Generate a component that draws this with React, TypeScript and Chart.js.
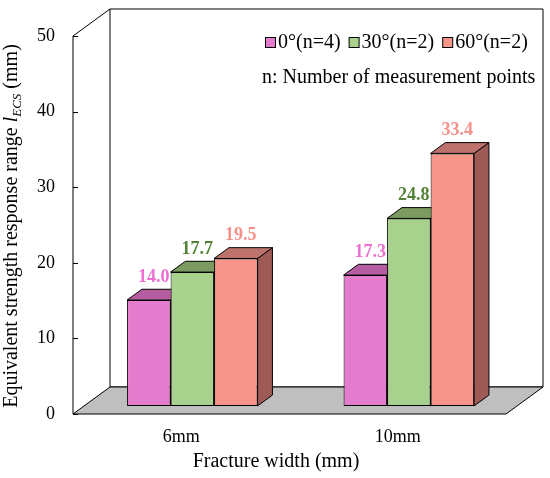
import { useEffect, useRef } from 'react';
import { Chart, registerables } from 'chart.js';

Chart.register(...registerables);

// ---------- data ----------
const categories = ['6mm', '10mm'];
const seriesLabels = ['0°(n=4)', '30°(n=2)', '60°(n=2)'];
const series0deg = [14.0, 17.3];
const series30deg = [17.7, 24.8];
const series60deg = [19.5, 33.4];
const yMin = 0;
const yMax = 50;
const yStep = 10;
const noteText = 'n: Number of measurement points';
const xTitleText = 'Fracture width (mm)';
const yTitleMain = 'Equivalent strength response range ';
const yTitleSymbol = 'l';
const yTitleSub = 'ECS';
const yTitleUnit = ' (mm)';

// ---------- styles ----------
const FONT = "'Liberation Serif', 'Times New Roman', serif";
const faceColors = ['#E57BCC', '#A9D18E', '#F8958B'];
const topColors = ['#B45DA0', '#7C9B60', '#BD736C'];
const sideColors = ['#9E4F8C', '#6A8550', '#9E5B55'];
const labelColors = ['#EE6FD1', '#548235', '#F4918A'];
const FLOOR = '#BFBFBF';
const DEPTH_X = 37;
const DEPTH_Y = -27;
const BAR_PLANE = 0.3;
const BAR_DEPTH = 0.4;

const threeD = {
  id: 'threeD',
  beforeDatasetsDraw(chart: any) {
    const { ctx, chartArea } = chart;
    const ys = chart.scales.y;
    const left = chartArea.left;
    const right = chartArea.right;
    const top = ys.getPixelForValue(yMax);
    const bottom = ys.getPixelForValue(yMin);
    ctx.save();
    ctx.lineWidth = 1;
    ctx.strokeStyle = '#000';
    // back wall
    ctx.fillStyle = '#fff';
    ctx.beginPath();
    ctx.rect(left + DEPTH_X, top + DEPTH_Y, right - left, bottom - top);
    ctx.fill();
    ctx.stroke();
    // floor
    ctx.fillStyle = FLOOR;
    ctx.beginPath();
    ctx.moveTo(left, bottom);
    ctx.lineTo(right, bottom);
    ctx.lineTo(right + DEPTH_X, bottom + DEPTH_Y);
    ctx.lineTo(left + DEPTH_X, bottom + DEPTH_Y);
    ctx.closePath();
    ctx.fill();
    ctx.stroke();
    // side wall edges / axis
    ctx.beginPath();
    ctx.moveTo(left, bottom);
    ctx.lineTo(left, top);
    ctx.lineTo(left + DEPTH_X, top + DEPTH_Y);
    ctx.stroke();
    // inward ticks
    ys.ticks.forEach((t: any) => {
      const y = Math.round(ys.getPixelForValue(t.value)) + 0.5;
      ctx.beginPath();
      ctx.moveTo(left, y);
      ctx.lineTo(left + 5, y);
      ctx.stroke();
    });
    ctx.restore();

    // bar plane
    ctx.save();
    ctx.translate(DEPTH_X * BAR_PLANE, DEPTH_Y * BAR_PLANE);
    const bdx = DEPTH_X * BAR_DEPTH;
    const bdy = DEPTH_Y * BAR_DEPTH;
    const items: any[] = [];
    chart.data.datasets.forEach((ds: any, di: number) => {
      const meta = chart.getDatasetMeta(di);
      meta.data.forEach((el: any) => {
        const p = el.getProps(['x', 'y', 'base', 'width'], true);
        items.push({ ...p, di });
      });
    });
    items.sort((a, b) => a.x - b.x);
    ctx.lineWidth = 1;
    ctx.strokeStyle = '#000';
    items.forEach((b) => {
      const x0 = b.x - b.width / 2;
      const x1 = b.x + b.width / 2;
      // side
      ctx.fillStyle = sideColors[b.di];
      ctx.beginPath();
      ctx.moveTo(x1, b.y);
      ctx.lineTo(x1 + bdx, b.y + bdy);
      ctx.lineTo(x1 + bdx, b.base + bdy);
      ctx.lineTo(x1, b.base);
      ctx.closePath();
      ctx.fill();
      ctx.stroke();
      // top
      ctx.fillStyle = topColors[b.di];
      ctx.beginPath();
      ctx.moveTo(x0, b.y);
      ctx.lineTo(x1, b.y);
      ctx.lineTo(x1 + bdx, b.y + bdy);
      ctx.lineTo(x0 + bdx, b.y + bdy);
      ctx.closePath();
      ctx.fill();
      ctx.stroke();
    });
  },
  afterDatasetsDraw(chart: any) {
    const { ctx } = chart;
    const bdy = DEPTH_Y * BAR_DEPTH;
    ctx.font = `bold 18px ${FONT}`;
    ctx.textAlign = 'center';
    ctx.textBaseline = 'middle';
    chart.data.datasets.forEach((ds: any, di: number) => {
      const meta = chart.getDatasetMeta(di);
      meta.data.forEach((el: any, i: number) => {
        const p = el.getProps(['x', 'y'], true);
        ctx.fillStyle = labelColors[di];
        ctx.fillText(ds.data[i].toFixed(1), p.x + 5, p.y + bdy - 12);
      });
    });
    ctx.restore();
  },
  afterDraw(chart: any) {
    const { ctx } = chart;
    ctx.save();
    // legend
    ctx.font = `20px ${FONT}`;
    ctx.textBaseline = 'middle';
    ctx.textAlign = 'left';
    let x = 265;
    const ly = 42;
    chart.data.datasets.forEach((ds: any, di: number) => {
      ctx.fillStyle = faceColors[di];
      ctx.fillRect(x + 0.5, ly - 5 + 0.5, 10, 10);
      ctx.strokeStyle = '#000';
      ctx.lineWidth = 1;
      ctx.strokeRect(x + 0.5, ly - 5 + 0.5, 10, 10);
      ctx.fillStyle = '#000';
      ctx.fillText(ds.label, x + 13, ly + 1);
      x += 13 + ctx.measureText(ds.label).width + 8;
    });
    ctx.fillText(noteText, 262, 78);

    // x title
    ctx.textAlign = 'center';
    ctx.fillText(xTitleText, 276, 462);

    // y title (rotated, mixed styles)
    const mainFont = `20px ${FONT}`;
    const symFont = `italic 20px ${FONT}`;
    const subFont = `italic 13px ${FONT}`;
    ctx.textAlign = 'left';
    ctx.textBaseline = 'alphabetic';
    const segs = [
      { t: yTitleMain, f: mainFont, dy: 0 },
      { t: yTitleSymbol, f: symFont, dy: 0 },
      { t: yTitleSub, f: subFont, dy: 4 },
      { t: yTitleUnit, f: mainFont, dy: 0 },
    ];
    let total = 0;
    segs.forEach((s) => {
      ctx.font = s.f;
      total += ctx.measureText(s.t).width;
    });
    ctx.translate(17, 226);
    ctx.rotate(-Math.PI / 2);
    let sx = -total / 2;
    segs.forEach((s) => {
      ctx.font = s.f;
      ctx.fillText(s.t, sx, s.dy);
      sx += ctx.measureText(s.t).width;
    });
    ctx.restore();
  },
};

export default function App() {
  const ref = useRef<HTMLCanvasElement>(null);
  useEffect(() => {
    const canvas = ref.current;
    if (!canvas) return;
    Chart.defaults.font.family = FONT;
    Chart.defaults.color = '#000';
    const chart = new Chart(canvas, {
      type: 'bar',
      data: {
        labels: categories,
        datasets: [series0deg, series30deg, series60deg].map((d, i) => ({
          label: seriesLabels[i],
          data: d,
          backgroundColor: faceColors[i],
          borderColor: '#000',
          borderWidth: 1,
          borderSkipped: false,
          categoryPercentage: 0.603,
          barPercentage: 1.0,
          clip: false as any,
        })),
      },
      options: {
        animation: false,
        responsive: false,
        events: [],
        layout: { padding: { left: 0, right: 44, top: 36, bottom: 0 } },
        plugins: {
          legend: { display: false },
          tooltip: { enabled: false },
          title: { display: false },
        },
        scales: {
          x: {
            type: 'category',
            grid: { display: false, drawTicks: false },
            border: { display: false },
            ticks: { font: { size: 18, family: FONT }, color: '#000', padding: 12 },
            afterFit: (s: any) => {
              s.height = 64;
            },
          },
          y: {
            min: yMin,
            max: yMax,
            grid: { display: false, drawTicks: false },
            border: { display: false },
            ticks: { stepSize: yStep, font: { size: 18, family: FONT }, color: '#000', padding: 18 },
            afterFit: (s: any) => {
              s.width = 73;
            },
          },
        },
      },
      plugins: [threeD],
    });
    return () => chart.destroy();
  }, []);
  return (
    <div style={{ position: 'absolute', left: 0, top: 0, width: 550, height: 478, background: '#fff' }}>
      <canvas ref={ref} width={550} height={478} style={{ display: 'block', width: 550, height: 478 }} />
    </div>
  );
}
